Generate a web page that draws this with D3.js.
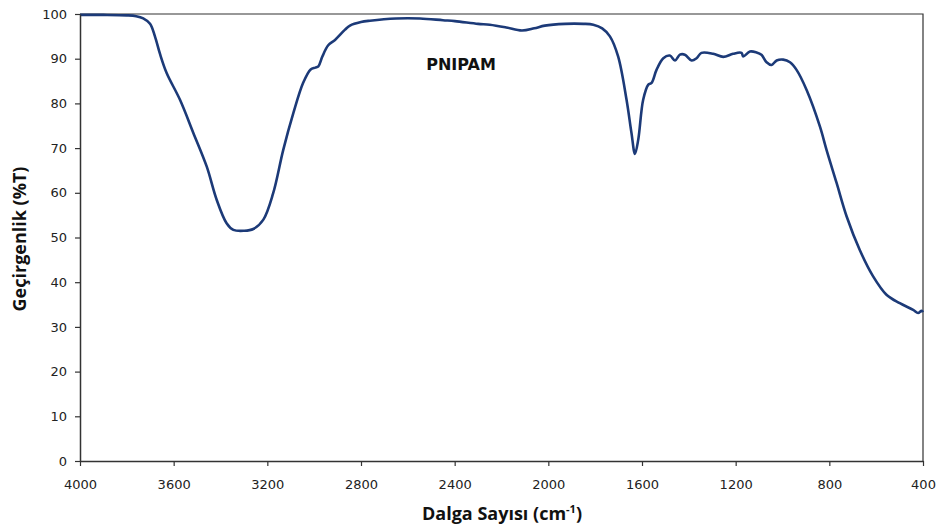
<!DOCTYPE html>
<html lang="tr">
<head>
<meta charset="utf-8" />
<title>PNIPAM FTIR</title>
<script src="https://cdn.jsdelivr.net/npm/d3@7"></script>
<style>
  body { margin: 0; background: #fff; }
  .tick text { font-family: "DejaVu Sans", Verdana, sans-serif; font-size: 13px; fill: #222; }
  .line { fill: none; stroke: #1c3a78; stroke-width: 2.6px; stroke-linejoin: round; }
</style>
</head>
<body>
<div id="chart"></div>
<script>
// wavenumbers (cm-1) and transmittance (%T)
const waveNumbers = [4000, 3900, 3800, 3760, 3730, 3701, 3680, 3658, 3630, 3573,
  3516, 3459, 3416, 3374, 3345, 3300, 3260, 3217, 3175, 3132,
  3089, 3047, 3015, 2995, 2982, 2965, 2940, 2911, 2868, 2847,
  2800, 2762, 2650, 2548, 2450, 2399, 2300, 2250, 2180, 2113,
  2060, 2015, 1929, 1850, 1808, 1770, 1737, 1702, 1666, 1645,
  1630, 1616, 1595, 1573, 1559, 1538, 1509, 1481, 1459, 1438,
  1417, 1388, 1367, 1346, 1296, 1253, 1211, 1175, 1168, 1139,
  1111, 1090, 1068, 1047, 1025, 997, 968, 940, 897, 840,
  812, 769, 726, 670, 613, 556, 499, 442, 421, 406, 400];
const transmittance = [99.8, 99.8, 99.7, 99.5, 99.0, 97.8, 95.0, 91.0, 86.8, 80.8,
  73.4, 65.9, 58.4, 53.2, 51.7, 51.5, 51.9, 54.0, 59.9, 69.6,
  77.8, 84.6, 87.6, 88.0, 88.3, 90.5, 93.0, 94.2, 96.5, 97.4,
  98.2, 98.5, 99.0, 99.0, 98.6, 98.4, 97.8, 97.6, 97.0, 96.3,
  96.8, 97.4, 97.8, 97.8, 97.6, 96.8, 95.0, 90.5, 80.8, 73.4,
  68.7, 71.9, 80.8, 84.2, 84.6, 87.5, 90.1, 90.7, 89.6, 90.9,
  90.9, 89.6, 90.1, 91.3, 91.1, 90.4, 91.1, 91.3, 90.5, 91.6,
  91.4, 90.9, 89.2, 88.6, 89.6, 89.8, 89.2, 87.5, 83.0, 74.8,
  69.6, 62.2, 54.7, 47.2, 41.3, 37.2, 35.3, 33.8, 33.1, 33.6, 33.3];
const xTicks = [4000, 3600, 3200, 2800, 2400, 2000, 1600, 1200, 800, 400];
const yTicks = [0, 10, 20, 30, 40, 50, 60, 70, 80, 90, 100];

const W = 941, H = 525;
const margin = {top: 14, right: 18, bottom: 64, left: 80};
const width = W - margin.left - margin.right,
      height = H - margin.top - margin.bottom;

const data = waveNumbers.map((w, i) => ({w: w, t: transmittance[i]}));

const x = d3.scaleLinear().domain([4000, 400]).range([0, width]);
const y = d3.scaleLinear().domain([0, 100]).range([height, 0]);

const svg = d3.select('#chart').append('svg')
    .attr('width', W)
    .attr('height', H);
const g = svg.append('g')
    .attr('transform', 'translate(' + margin.left + ',' + margin.top + ')');

// frame (top / right)
g.append('path')
    .attr('d', 'M0,0H' + width + 'V' + height)
    .attr('fill', 'none')
    .attr('stroke', '#333')
    .attr('stroke-width', 1.2);

const line = d3.line()
    .x(d => x(d.w))
    .y(d => y(d.t))
    .curve(d3.curveCatmullRom.alpha(0.5));

g.append('path')
    .datum(data)
    .attr('class', 'line')
    .attr('d', line);

const xAxis = g.append('g')
    .attr('transform', 'translate(0,' + height + ')')
    .call(d3.axisBottom(x).tickValues(xTicks).tickFormat(d3.format('d')).tickSize(5).tickPadding(14).tickSizeOuter(0));
const yAxis = g.append('g')
    .call(d3.axisLeft(y).tickValues(yTicks).tickSize(5).tickPadding(8).tickSizeOuter(0));
[xAxis, yAxis].forEach(a => {
  a.select('.domain').attr('stroke', '#333').attr('stroke-width', 1.5);
  a.selectAll('.tick line').attr('stroke', '#333').attr('stroke-width', 1.2);
});

// titles
const xt = svg.append('text')
    .attr('x', 502)
    .attr('y', 520)
    .attr('text-anchor', 'middle')
    .style('font-family', '"Open Sans", sans-serif')
    .style('font-size', '18px')
    .style('font-weight', 700)
    .style('fill', '#111');
xt.append('tspan').text('Dalga Sayısı (cm');
xt.append('tspan').attr('dy', -7).style('font-size', '11px').text('-1');
xt.append('tspan').attr('dy', 7).text(')');

svg.append('text')
    .attr('transform', 'translate(26,239) rotate(-90)')
    .attr('text-anchor', 'middle')
    .style('font-family', '"Open Sans", sans-serif')
    .style('font-size', '18px')
    .style('font-weight', 700)
    .style('fill', '#111')
    .text('Geçirgenlik (%T)');

svg.append('text')
    .attr('x', 461)
    .attr('y', 70)
    .attr('text-anchor', 'middle')
    .style('font-family', '"DejaVu Sans", Verdana, sans-serif')
    .style('font-size', '16px')
    .style('font-weight', 700)
    .style('fill', '#111')
    .text('PNIPAM');
</script>
</body>
</html>
